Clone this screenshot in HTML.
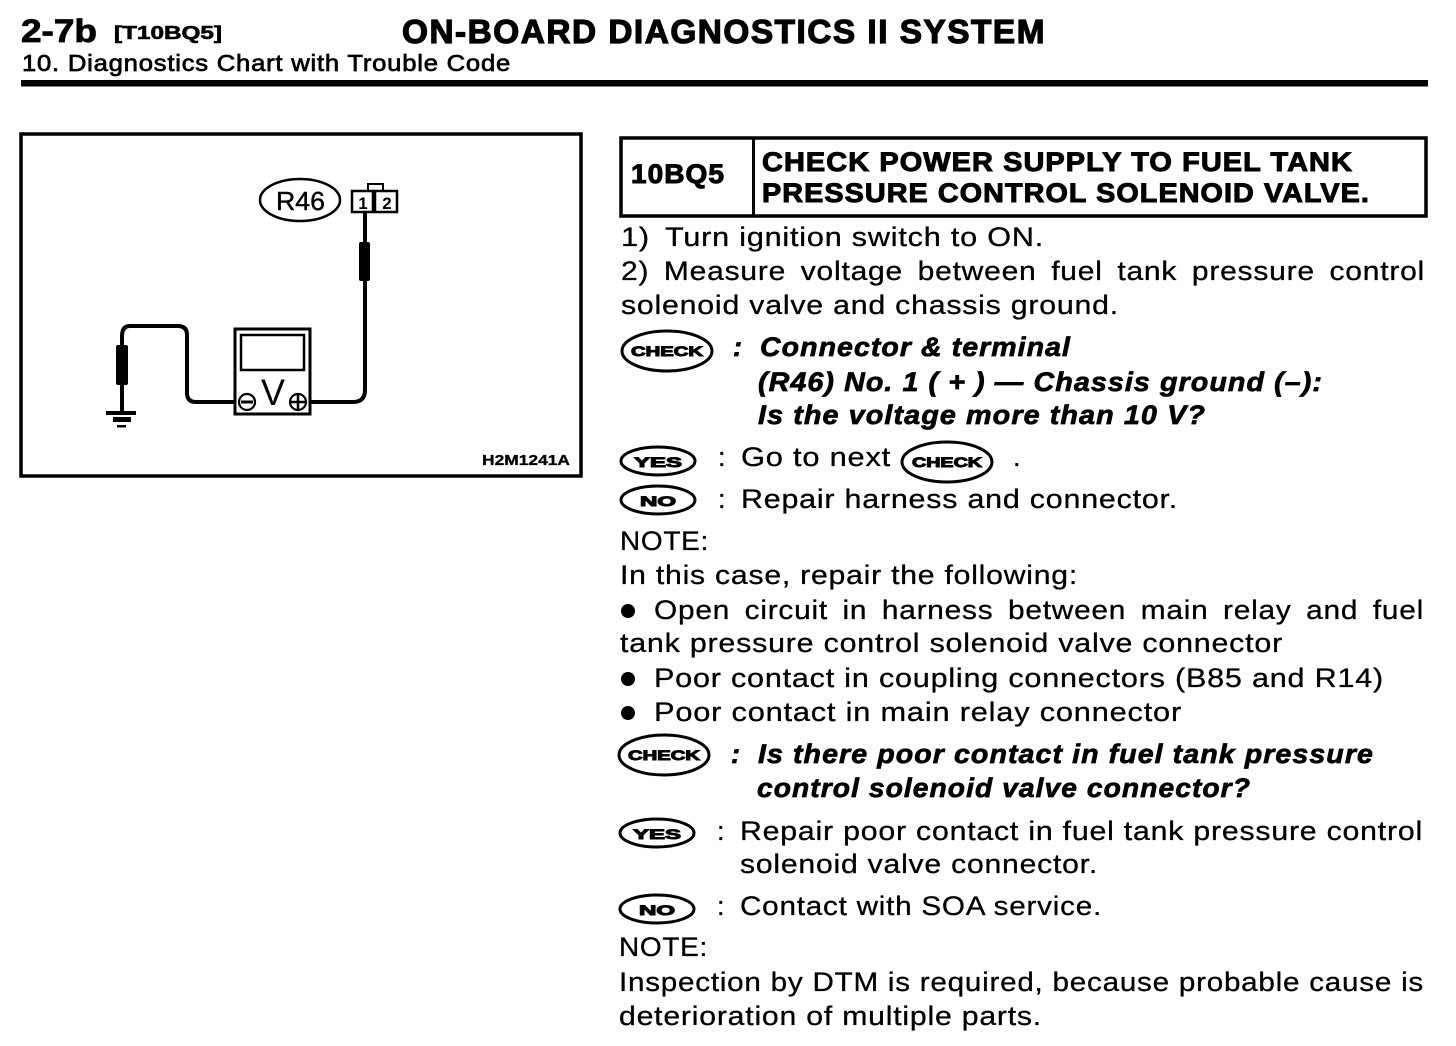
<!DOCTYPE html>
<html><head><meta charset="utf-8">
<style>
html,body{margin:0;padding:0;background:#fff;width:1456px;height:1046px;overflow:hidden}
svg{display:block}
text{font-family:"Liberation Sans",sans-serif;fill:#000}
.b{font-weight:bold}
.r{font-size:27px;stroke:#000;stroke-width:.3px;letter-spacing:.7px}
.j{word-spacing:5px}
.h{font-size:27px;font-weight:bold;stroke:#000;stroke-width:1px;letter-spacing:1px}
.i{font-size:27px;font-weight:bold;font-style:italic;stroke:#000;stroke-width:.7px;letter-spacing:1px}
.o{fill:#fff;stroke:#000}
.t{font-weight:bold;font-size:14px;stroke:#000;stroke-width:1px}
</style></head><body>
<svg width="1456" height="1046" viewBox="0 0 1456 1046" xmlns="http://www.w3.org/2000/svg">
<!-- header -->
<text x="21" y="42" class="b" font-size="32" textLength="76" lengthAdjust="spacingAndGlyphs" stroke="#000" stroke-width=".8">2-7b</text>
<text x="114" y="39" class="b" font-size="18" textLength="108" lengthAdjust="spacingAndGlyphs" stroke="#000" stroke-width=".6">[T10BQ5]</text>
<text x="402" y="43" class="b" font-size="33" letter-spacing="1.5" textLength="644" lengthAdjust="spacingAndGlyphs" stroke="#000" stroke-width="1.2">ON-BOARD DIAGNOSTICS II SYSTEM</text>
<text x="22" y="71" font-size="23" letter-spacing=".7" textLength="489" lengthAdjust="spacingAndGlyphs" stroke="#000" stroke-width=".7">10. Diagnostics Chart with Trouble Code</text>
<rect x="21" y="80" width="1407" height="6.5"/>

<!-- diagram frame -->
<rect x="21" y="134" width="560" height="342" fill="none" stroke="#000" stroke-width="3.5"/>
<ellipse cx="300" cy="200" rx="40" ry="21" class="o" stroke-width="2.5"/>
<text x="276" y="210" font-size="26" textLength="49" lengthAdjust="spacingAndGlyphs" stroke="#000" stroke-width=".4">R46</text>
<rect x="352" y="191" width="21" height="21" class="o" stroke-width="2.5"/>
<rect x="375" y="191" width="22" height="21" class="o" stroke-width="2.5"/>
<path d="M368 190V184H383V190" fill="none" stroke="#000" stroke-width="2"/>
<text x="363" y="209" font-size="17" class="b" text-anchor="middle">1</text>
<text x="387" y="209" font-size="17" class="b" text-anchor="middle">2</text>
<!-- right lead -->
<path d="M365 212V390Q365 402 353 402H310" fill="none" stroke="#000" stroke-width="4"/>
<rect x="359" y="242" width="11" height="39" rx="2"/>
<!-- left lead -->
<path d="M234 402H196Q187 402 187 393V335Q187 326 178 326H130Q122 326 122 336V412" fill="none" stroke="#000" stroke-width="4"/>
<rect x="116" y="345" width="12" height="40" rx="2"/>
<!-- ground -->
<rect x="106" y="411" width="30" height="4"/>
<rect x="113" y="417" width="18" height="5"/>
<rect x="117" y="425" width="9" height="2.5"/>
<!-- meter -->
<rect x="235" y="329" width="75" height="85" class="o" stroke-width="3"/>
<rect x="241" y="335" width="63" height="35" class="o" stroke-width="2.5"/>
<text x="273" y="405" font-size="37" text-anchor="middle" textLength="24" lengthAdjust="spacingAndGlyphs">V</text>
<circle cx="247" cy="402" r="8" class="o" stroke-width="2.2"/>
<path d="M241 402H253" stroke="#000" stroke-width="3"/>
<circle cx="298" cy="402" r="8" class="o" stroke-width="2.2"/>
<path d="M291 402H305M298 395V409" stroke="#000" stroke-width="2.5"/>
<text x="482" y="465" font-size="14.5" class="b" textLength="88" lengthAdjust="spacingAndGlyphs" stroke="#000" stroke-width=".3">H2M1241A</text>

<!-- title box -->
<rect x="621" y="138" width="805" height="78" fill="none" stroke="#000" stroke-width="3.5"/>
<rect x="752" y="138" width="3" height="78"/>
<text x="631" y="183" class="h" textLength="94" lengthAdjust="spacingAndGlyphs">10BQ5</text>
<text x="762" y="171" class="h" textLength="591" lengthAdjust="spacingAndGlyphs">CHECK POWER SUPPLY TO FUEL TANK</text>
<text x="762" y="202" class="h" textLength="608" lengthAdjust="spacingAndGlyphs">PRESSURE CONTROL SOLENOID VALVE.</text>

<!-- body -->
<text x="621" y="246" class="r" textLength="29" lengthAdjust="spacingAndGlyphs">1)</text>
<text x="665" y="246" class="r" textLength="379" lengthAdjust="spacingAndGlyphs">Turn ignition switch to ON.</text>
<text x="621" y="280" class="r j" textLength="804" lengthAdjust="spacingAndGlyphs">2) Measure voltage between fuel tank pressure control</text>
<text x="621" y="314" class="r" textLength="498" lengthAdjust="spacingAndGlyphs">solenoid valve and chassis ground.</text>

<ellipse cx="667" cy="351" rx="45" ry="20" class="o" stroke-width="3"/>
<text x="667" y="356" class="t" text-anchor="middle" textLength="72" lengthAdjust="spacingAndGlyphs">CHECK</text>
<text x="733" y="356" class="i">:</text>
<text x="760" y="356" class="i" textLength="311" lengthAdjust="spacingAndGlyphs">Connector &amp; terminal</text>
<text x="758" y="391" class="i" textLength="565" lengthAdjust="spacingAndGlyphs">(R46) No. 1 ( + ) — Chassis ground (–):</text>
<text x="758" y="424" class="i" textLength="448" lengthAdjust="spacingAndGlyphs">Is the voltage more than 10 V?</text>

<ellipse cx="658" cy="461" rx="37" ry="14" class="o" stroke-width="3"/>
<text x="658" y="467" class="t" text-anchor="middle" textLength="48" lengthAdjust="spacingAndGlyphs" font-size="15">YES</text>
<text x="718" y="466" class="r">:</text>
<text x="741" y="466" class="r" textLength="150" lengthAdjust="spacingAndGlyphs">Go to next</text>
<ellipse cx="947" cy="462" rx="45" ry="20" class="o" stroke-width="3"/>
<text x="947" y="467" class="t" text-anchor="middle" textLength="70" lengthAdjust="spacingAndGlyphs">CHECK</text>
<text x="1013" y="466" class="r">.</text>

<ellipse cx="658" cy="500" rx="37" ry="14" class="o" stroke-width="3"/>
<text x="658" y="506" class="t" text-anchor="middle" textLength="36" lengthAdjust="spacingAndGlyphs">NO</text>
<text x="718" y="508" class="r">:</text>
<text x="741" y="508" class="r" textLength="437" lengthAdjust="spacingAndGlyphs">Repair harness and connector.</text>

<text x="620" y="550" class="r" textLength="89" lengthAdjust="spacingAndGlyphs">NOTE:</text>
<text x="620" y="584" class="r" textLength="458" lengthAdjust="spacingAndGlyphs">In this case, repair the following:</text>
<circle cx="628" cy="611" r="7"/>
<text x="654" y="619" class="r j" textLength="770" lengthAdjust="spacingAndGlyphs">Open circuit in harness between main relay and fuel</text>
<text x="620" y="652" class="r" textLength="663" lengthAdjust="spacingAndGlyphs">tank pressure control solenoid valve connector</text>
<circle cx="628" cy="679" r="7"/>
<text x="654" y="687" class="r" textLength="730" lengthAdjust="spacingAndGlyphs">Poor contact in coupling connectors (B85 and R14)</text>
<circle cx="628" cy="713" r="7"/>
<text x="654" y="721" class="r" textLength="528" lengthAdjust="spacingAndGlyphs">Poor contact in main relay connector</text>

<ellipse cx="664" cy="755" rx="45" ry="20" class="o" stroke-width="3"/>
<text x="664" y="760" class="t" text-anchor="middle" textLength="72" lengthAdjust="spacingAndGlyphs">CHECK</text>
<text x="731" y="763" class="i">:</text>
<text x="758" y="763" class="i" textLength="616" lengthAdjust="spacingAndGlyphs">Is there poor contact in fuel tank pressure</text>
<text x="757" y="797" class="i" textLength="494" lengthAdjust="spacingAndGlyphs">control solenoid valve connector?</text>

<ellipse cx="657" cy="833" rx="37" ry="14" class="o" stroke-width="3"/>
<text x="657" y="839" class="t" text-anchor="middle" textLength="48" lengthAdjust="spacingAndGlyphs">YES</text>
<text x="717" y="840" class="r">:</text>
<text x="740" y="840" class="r" textLength="683" lengthAdjust="spacingAndGlyphs">Repair poor contact in fuel tank pressure control</text>
<text x="740" y="873" class="r" textLength="358" lengthAdjust="spacingAndGlyphs">solenoid valve connector.</text>

<ellipse cx="657" cy="909" rx="37" ry="14" class="o" stroke-width="3"/>
<text x="657" y="915" class="t" text-anchor="middle" textLength="36" lengthAdjust="spacingAndGlyphs">NO</text>
<text x="717" y="915" class="r">:</text>
<text x="740" y="915" class="r" textLength="362" lengthAdjust="spacingAndGlyphs">Contact with SOA service.</text>

<text x="619" y="956" class="r" textLength="89" lengthAdjust="spacingAndGlyphs">NOTE:</text>
<text x="619" y="991" class="r" textLength="805" lengthAdjust="spacingAndGlyphs">Inspection by DTM is required, because probable cause is</text>
<text x="619" y="1025" class="r" textLength="423" lengthAdjust="spacingAndGlyphs">deterioration of multiple parts.</text>
</svg>
</body></html>
